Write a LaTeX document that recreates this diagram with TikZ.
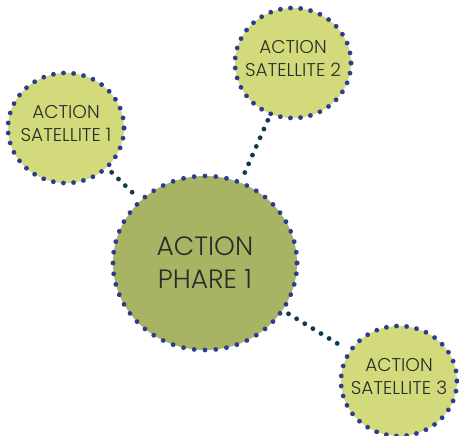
\documentclass[tikz,border=0pt]{standalone}
\usepackage{fontspec}
\setmainfont{Poppins Light}
\usetikzlibrary{shapes.geometric,decorations.markings}
\definecolor{satgreen}{HTML}{D2DA7B}
\definecolor{maingreen}{HTML}{A8B464}
\definecolor{ringblue}{HTML}{2B3D91}
\definecolor{conncol}{HTML}{0E3A4F}
\definecolor{txt}{HTML}{2B2B2B}
\tikzset{
  satshape/.style={ellipse, fill=satgreen, draw=none, minimum width=116pt, minimum height=110pt, inner sep=0pt},
  mainshape/.style={ellipse, fill=maingreen, draw=none, minimum width=184pt, minimum height=174pt, inner sep=0pt},
  sattext/.style={align=center, text=txt, font=\fontsize{18.5}{23}\selectfont, inner sep=0pt, yshift=4pt},
  maintext/.style={align=center, text=txt, font=\fontsize{26.5}{33}\selectfont, inner sep=0pt},
  dotring/.style={decorate, decoration={markings, mark=between positions 0 and 1 step #1 with {\fill[ringblue] (0,0) circle (2.4pt);}}},
  conn/.style={draw=conncol, line width=4.8pt, line cap=round, dash pattern=on 0pt off 9.5pt, shorten <=7pt, shorten >=7pt}
}
\begin{document}
\begin{tikzpicture}[x=1pt,y=-1pt]
\useasboundingbox (0,0) rectangle (459,436);
\node[mainshape] (c) at (205,263) {};
\node[satshape] (s1) at (66,128) {};
\node[satshape] (s2) at (293,63) {};
\node[satshape] (s3) at (399,381) {};
\path[dotring=1/52] (c.center) ellipse [x radius=92pt, y radius=87pt];
\path[dotring=1/35] (s1.center) ellipse [x radius=58pt, y radius=55pt];
\path[dotring=1/35] (s2.center) ellipse [x radius=58pt, y radius=55pt];
\path[dotring=1/35] (s3.center) ellipse [x radius=58pt, y radius=55pt];
\draw[conn] (s1) -- (c);
\draw[conn] (s2) -- (c);
\draw[conn] (c) -- (s3);
\node[maintext] (ct) at (c) {ACTION\\PHARE 1};
\node[sattext] (s1t) at (s1) {ACTION\\SATELLITE 1};
\node[sattext] (s2t) at (s2) {ACTION\\SATELLITE 2};
\node[sattext] (s3t) at (s3) {ACTION\\SATELLITE 3};
\end{tikzpicture}
\end{document}
